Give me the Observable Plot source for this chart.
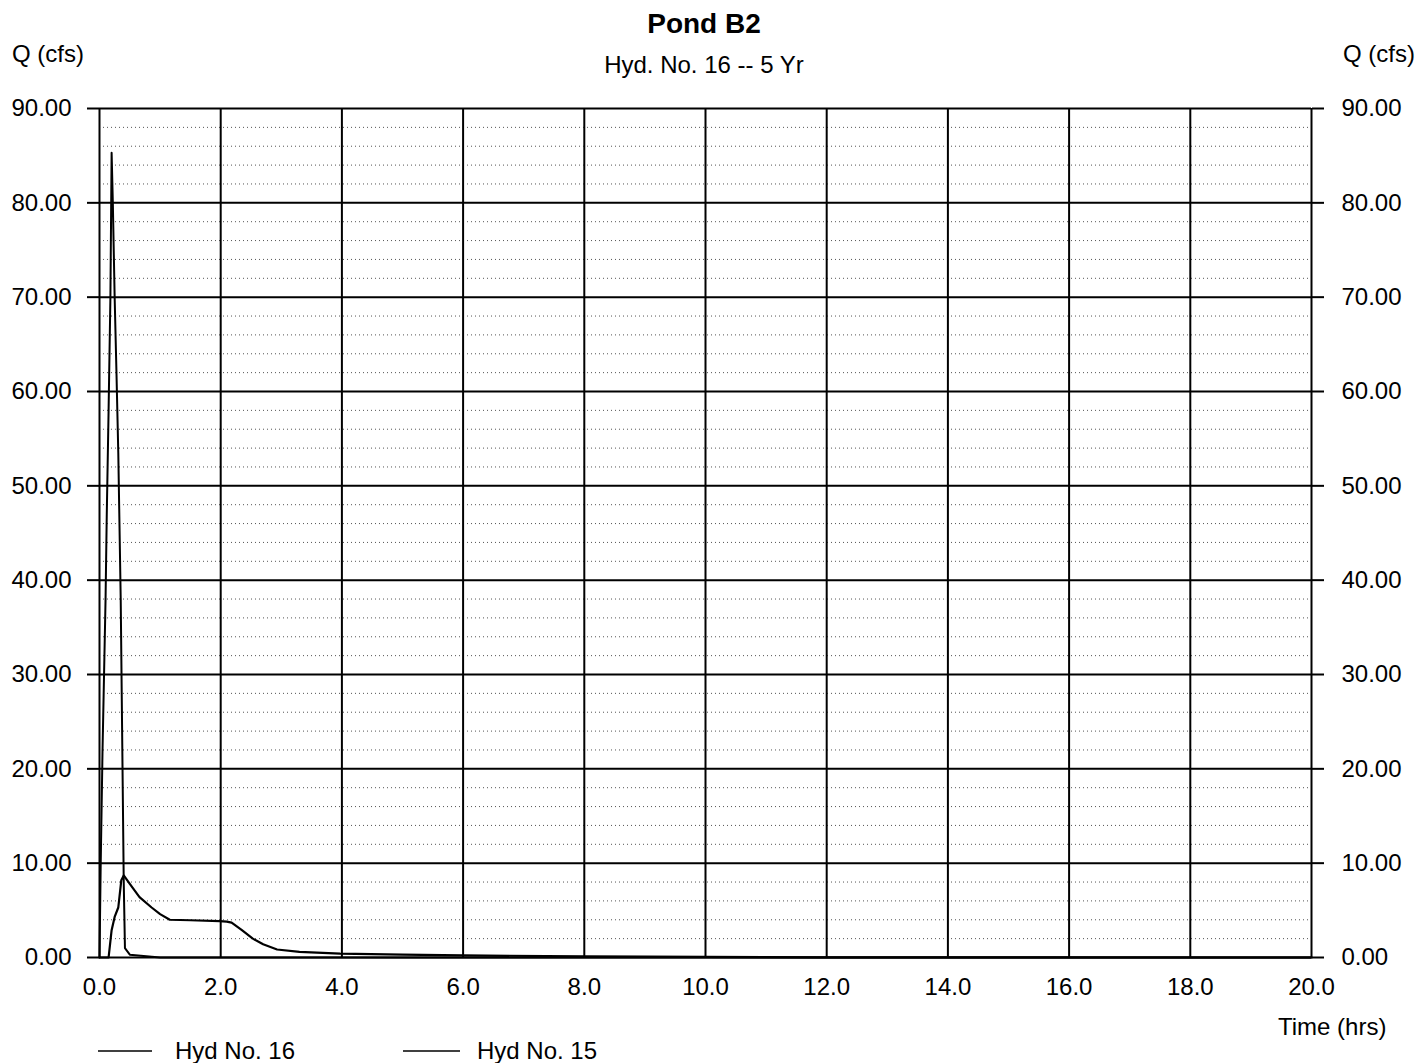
<!DOCTYPE html>
<html>
<head>
<meta charset="utf-8">
<script src="https://cdn.jsdelivr.net/npm/d3@7"></script>
<script src="https://cdn.jsdelivr.net/npm/@observablehq/plot@0.6"></script>
<style>
  body { margin: 0; background: #fff; }
  #chart svg { display: block; }
</style>
</head>
<body>
<div id="chart"></div>
<script>
// ---- Data ----
const chartTitle = "Pond B2";
const chartSubtitle = "Hyd. No. 16 -- 5 Yr";
const yAxisLabel = "Q (cfs)";
const xAxisLabel = "Time (hrs)";
const seriesNames = ["Hyd No. 16", "Hyd No. 15"];

// Hyd No. 15 (inflow spike)
const hyd15Time = [0, 0.02, 0.05, 0.10, 0.12, 0.15, 0.18, 0.20, 0.22, 0.25, 0.28, 0.31, 0.35, 0.38, 0.40, 0.42, 0.50, 1.0, 20];
const hyd15Flow = [0, 10, 22, 38, 47, 58, 70, 85.3, 80, 70, 62, 53.5, 38, 20, 8, 1, 0.3, 0, 0];

// Hyd No. 16 (pond outflow)
const hyd16Time = [0, 0.15, 0.20, 0.25, 0.31, 0.36, 0.40, 0.50, 0.66, 0.86, 1.00, 1.16, 1.50, 1.98, 2.10, 2.18, 2.35, 2.53, 2.70, 2.93, 3.30, 3.97, 5, 6, 8, 10, 12, 20];
const hyd16Flow = [0, 0, 2.9, 4.3, 5.3, 8.2, 8.7, 7.8, 6.4, 5.3, 4.6, 4.0, 3.95, 3.85, 3.8, 3.7, 2.9, 2.0, 1.4, 0.85, 0.6, 0.42, 0.3, 0.22, 0.12, 0.06, 0.02, 0];

const xTicks = [0, 2, 4, 6, 8, 10, 12, 14, 16, 18, 20];
const yMajor = [0, 10, 20, 30, 40, 50, 60, 70, 80, 90];
const yMinor = [2, 4, 6, 8, 12, 14, 16, 18, 22, 24, 26, 28, 32, 34, 36, 38, 42, 44, 46, 48, 52, 54, 56, 58, 62, 64, 66, 68, 72, 74, 76, 78, 82, 84, 86, 88];

const hyd15 = hyd15Time.map((t, i) => ({t, q: hyd15Flow[i]}));
const hyd16 = hyd16Time.map((t, i) => ({t, q: hyd16Flow[i]}));

const font = "'Liberation Sans', Arial, Helvetica, sans-serif";

const chart = Plot.plot({
  width: 1421,
  height: 1063,
  marginLeft: 99,
  marginRight: 110,
  marginTop: 108,
  marginBottom: 106,
  style: {fontFamily: font, fontSize: "24px", color: "#000", background: "#fff"},
  x: {domain: [0, 20], label: null},
  y: {domain: [0, 90], label: null},
  marks: [
    Plot.ruleY(yMinor, {stroke: "#555", strokeWidth: 1, strokeDasharray: "1,3"}),
    Plot.ruleX(xTicks, {stroke: "#000", strokeWidth: 2}),
    Plot.ruleY(yMajor, {stroke: "#000", strokeWidth: 2}),
    Plot.axisY({anchor: "left", ticks: yMajor, tickSize: 12, tickPadding: 16, strokeWidth: 2,
      tickFormat: d => d.toFixed(2), label: null}),
    Plot.axisY({anchor: "right", ticks: yMajor, tickSize: 12, tickPadding: 18, strokeWidth: 2,
      tickFormat: d => d.toFixed(2), label: null}),
    Plot.axisX({ticks: xTicks, tickSize: 0, tickPadding: 20, tickFormat: d => d.toFixed(1), label: null}),
    Plot.line(hyd15, {x: "t", y: "q", stroke: "#000", strokeWidth: 2}),
    Plot.line(hyd16, {x: "t", y: "q", stroke: "#000", strokeWidth: 2.2})
  ]
});

document.getElementById("chart").append(chart);

const svg = d3.select(chart);
function addText(str, x, y, opts = {}) {
  svg.append("text")
    .attr("x", x).attr("y", y)
    .attr("font-family", font)
    .attr("font-size", opts.size || 24)
    .attr("font-weight", opts.weight || "normal")
    .attr("text-anchor", opts.anchor || "start")
    .attr("fill", "#000")
    .text(str);
}
addText(chartTitle, 704, 33, {size: 28, weight: "bold", anchor: "middle"});
addText(chartSubtitle, 704, 73, {anchor: "middle"});
addText(yAxisLabel, 12, 62);
addText(yAxisLabel, 1343, 62);
addText(xAxisLabel, 1278, 1035);

// Legend
const legendItems = [
  {name: seriesNames[0], x1: 98, x2: 152, tx: 175},
  {name: seriesNames[1], x1: 403, x2: 460, tx: 477}
];
legendItems.forEach(d => {
  svg.append("line").attr("x1", d.x1).attr("x2", d.x2).attr("y1", 1051).attr("y2", 1051)
    .attr("stroke", "#000").attr("stroke-width", 1.6);
  addText(d.name, d.tx, 1059);
});
</script>
</body>
</html>
